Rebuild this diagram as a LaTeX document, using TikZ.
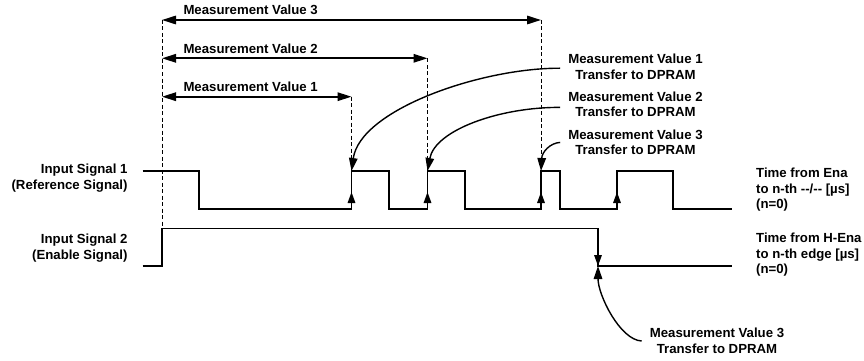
\documentclass[tikz,border=0pt]{standalone}
\usepackage{fontspec}
\setmainfont{Liberation Sans}
\usetikzlibrary{arrows.meta,positioning,calc}

\begin{document}
\begin{tikzpicture}[x=1pt, y=-1pt,
    every node/.style={font=\fontsize{13.2}{15.5}\selectfont\bfseries, inner sep=0pt},
    signal/.style={line width=1.7pt, line join=miter},
    guide/.style={line width=0.9pt, dash pattern=on 4pt off 2.5pt},
    dimarrow/.style={line width=1.6pt, {Triangle[length=14pt,width=8.5pt]}-{Triangle[length=14pt,width=8.5pt]}},
    edgearrow/.style={line width=1.6pt, -{Triangle[length=11pt,width=7.5pt]}},
    xferarrow/.style={line width=1.4pt, -{Triangle[length=13pt,width=8.5pt]}}]
  \useasboundingbox (0,0) rectangle (864,361);

  % Edge points
  \coordinate (ena) at (162,228.5);
  \coordinate (r1) at (351.5,171);
  \coordinate (r2) at (427.5,171);
  \coordinate (r3) at (541,171);
  \coordinate (r4) at (617,171);
  \coordinate (f2) at (598,266);
  % Ends of the measured spans
  \coordinate (s1) at (162,96.7);
  \coordinate (s2) at (162,58.3);
  \coordinate (s3) at (162,20);
  \coordinate (t1) at (351.5,96.7);
  \coordinate (t2) at (427.5,58.3);
  \coordinate (t3) at (541,20);

  % Signal names
  \node[anchor=north east, align=right] (in1) at (127.7,163.8) {Input Signal 1\\(Reference Signal)};
  \node[anchor=north east, align=right] (in2) at (127.7,233.8) {Input Signal 2\\(Enable Signal)};
  \node[anchor=north west, align=left] (out1) at (756,167.8) {Time from Ena\\to n-th -\kern0pt-/-\kern0pt- [µs]\\(n=0)};
  \node[anchor=north west, align=left] (out2) at (756,232.8) {Time from H-Ena\\to n-th edge [µs]\\(n=0)};

  % Input signals
  \draw[signal] (142.5,171) -| (199,209) -| (r1) -| (389,209) -| (r2) -| (465,209)
    -| (r3) -| (560,209) -| (r4) -| (673,209) -- (732,209);
  \draw[signal] (142.5,266) -| (ena) -| (f2) -- (732,266);
  \foreach \e in {r1,r2,r3,r4}
    \draw[edgearrow] ($(\e)+(0,38)$) -- ($(\e)+(0,21)$);
  \draw[edgearrow] ($(f2)+(0,-22)$) -- (f2);

  % Measured spans
  \draw[guide] (s3) -- (ena);
  \draw[guide] (t1) -- (r1);
  \draw[guide] (t2) -- (r2);
  \draw[guide] (t3) -- (r3);
  \draw[dimarrow] (s1) -- (t1);
  \draw[dimarrow] (s2) -- (t2);
  \draw[dimarrow] (s3) -- (t3);
  \node[anchor=base west] (mv1) at (183.3,91.7) {Measurement Value 1};
  \node[anchor=base west] (mv2) at (183.3,53.3) {Measurement Value 2};
  \node[anchor=base west] (mv3) at (183.3,15) {Measurement Value 3};

  % Transfers to DPRAM
  \node[anchor=north, align=center] (xfer1) at (635.5,53.8) {Measurement Value 1\\Transfer to DPRAM};
  \node[anchor=north, align=center] (xfer2) at (635.5,91.6) {Measurement Value 2\\Transfer to DPRAM};
  \node[anchor=north, align=center] (xfer3) at (635.5,129.6) {Measurement Value 3\\Transfer to DPRAM};
  \node[anchor=north, align=center] (xfer0) at (717,328.2) {Measurement Value 3\\Transfer to DPRAM};
  \draw[xferarrow] ([xshift=-8pt,yshift=-1.6pt]xfer1.west) .. controls (480,68) and (360,110) .. (r1);
  \draw[xferarrow] ([xshift=-8pt,yshift=-3pt]xfer2.west) .. controls (500,107) and (435,130) .. (r2);
  \draw[xferarrow] ([xshift=-8pt]xfer3.west) .. controls (550,143) and (542,152) .. (r3);
  \draw[xferarrow] ([xshift=-8pt]xfer0.west) .. controls (620,340) and (598,295) .. (f2);
\end{tikzpicture}
\end{document}
